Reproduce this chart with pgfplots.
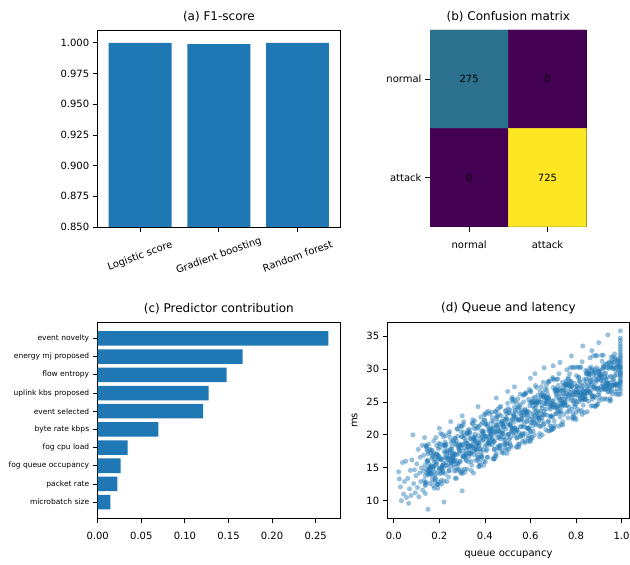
\documentclass[border=0pt]{standalone}
\usepackage{fontspec}
\setmainfont{DejaVu Sans}
\usepackage{pgfplots}
\usepackage{pgfplotstable}
\pgfplotsset{compat=1.18}
\definecolor{mplblue}{HTML}{1F77B4}
\pgfplotsset{
  mpl/.style={
    scale only axis,
    axis line style={black, line width=0.8pt},
    every tick/.style={black, line width=0.8pt},
    tick align=outside,
    major tick length=5pt,
    xtick pos=bottom, ytick pos=left,
    tick label style={font=\fontsize{10}{12}\selectfont},
    /pgf/number format/assume math mode=true,
    title style={font=\fontsize{12}{14}\selectfont, yshift=-1.5pt},
    label style={font=\fontsize{10}{12}\selectfont},
  },
  mplx/.style={xticklabel style={yshift=-5.5pt}},
  sc/.style={only marks, mark=*, color=mplblue, mark size=2.4pt,
    mark options={draw=mplblue, fill=mplblue, draw opacity=0.15, fill opacity=0.45}},
}
\pgfplotstableread{
x y
0.021 14.4
0.024 13.3
0.029 12.1
0.033 10.0
0.038 15.8
0.043 11.0
0.047 12.9
0.052 16.0
0.056 10.5
0.061 13.4
0.065 9.6
0.069 11.8
0.072 14.6
0.076 10.8
0.079 16.2
0.084 20.0
0.087 12.6
0.091 14.7
0.094 11.2
0.097 13.8
0.101 15.6
0.104 12.0
0.107 17.8
0.110 10.6
0.113 14.2
0.116 16.6
0.118 12.9
0.121 15.0
0.124 18.4
0.127 11.6
0.129 14.5
0.131 16.9
0.133 13.1
0.135 19.6
0.137 15.4
0.138 12.3
0.150 8.7
0.140 12.7
0.140 12.8
0.140 18.4
0.145 16.0
0.145 14.2
0.145 17.8
0.150 17.1
0.150 14.0
0.150 14.6
0.155 15.1
0.155 13.9
0.155 14.8
0.160 14.8
0.160 14.2
0.160 17.3
0.165 15.3
0.165 14.3
0.165 17.7
0.170 13.7
0.170 16.7
0.170 16.9
0.175 15.2
0.175 19.1
0.175 17.2
0.180 13.0
0.180 16.4
0.180 13.8
0.185 19.6
0.185 15.9
0.185 15.4
0.190 16.6
0.190 14.2
0.190 12.5
0.195 17.9
0.195 16.8
0.195 12.5
0.200 14.9
0.200 16.7
0.200 12.8
0.205 20.2
0.205 18.6
0.205 15.0
0.210 12.5
0.210 16.3
0.210 14.8
0.215 15.4
0.215 14.5
0.215 14.3
0.220 13.0
0.220 18.4
0.220 18.5
0.225 14.1
0.225 18.3
0.225 18.9
0.230 16.5
0.230 15.4
0.230 18.6
0.235 15.3
0.235 17.7
0.235 16.6
0.240 13.6
0.240 16.2
0.240 16.4
0.245 17.3
0.245 20.5
0.245 16.7
0.250 17.6
0.250 15.2
0.250 15.7
0.255 18.3
0.255 17.2
0.255 17.8
0.260 16.4
0.260 19.1
0.260 16.0
0.265 17.2
0.265 14.5
0.265 15.1
0.270 17.0
0.270 13.4
0.270 19.5
0.275 14.6
0.275 16.1
0.275 13.4
0.280 20.9
0.280 19.8
0.280 15.6
0.285 14.8
0.285 17.9
0.285 18.3
0.290 18.5
0.290 17.5
0.290 15.9
0.295 21.3
0.295 20.5
0.295 18.0
0.300 21.3
0.300 14.1
0.300 19.8
0.305 21.6
0.305 17.5
0.305 16.7
0.310 19.9
0.310 14.8
0.310 19.5
0.315 19.1
0.315 18.8
0.315 17.0
0.320 17.8
0.320 18.7
0.320 17.0
0.325 18.2
0.325 18.7
0.325 18.3
0.330 16.7
0.330 17.7
0.330 20.8
0.335 20.3
0.335 17.2
0.335 19.4
0.340 17.3
0.340 16.0
0.340 14.6
0.345 21.7
0.345 21.8
0.345 18.3
0.350 19.5
0.350 21.0
0.350 19.7
0.355 22.1
0.355 17.8
0.355 19.2
0.360 17.9
0.360 21.3
0.360 16.1
0.365 18.7
0.365 18.5
0.365 17.6
0.370 19.9
0.370 21.1
0.370 16.6
0.375 18.7
0.375 18.4
0.375 15.8
0.380 17.9
0.380 15.4
0.380 19.4
0.385 16.9
0.385 16.7
0.385 20.6
0.390 20.6
0.390 19.1
0.390 21.9
0.395 15.4
0.395 20.5
0.395 16.0
0.400 18.3
0.400 19.9
0.400 22.2
0.405 17.6
0.405 19.7
0.405 21.6
0.410 19.8
0.410 16.6
0.410 17.8
0.415 23.6
0.415 18.7
0.415 18.8
0.420 18.5
0.420 19.2
0.420 23.2
0.425 21.1
0.425 20.1
0.425 20.8
0.430 19.3
0.430 21.9
0.430 23.4
0.435 20.9
0.435 16.4
0.435 20.6
0.440 16.3
0.440 17.8
0.440 18.9
0.445 20.5
0.445 16.8
0.445 20.4
0.450 22.5
0.450 16.8
0.450 21.5
0.455 20.6
0.455 18.1
0.455 22.8
0.460 18.3
0.460 22.0
0.460 20.6
0.465 24.2
0.465 18.4
0.465 18.0
0.470 21.2
0.470 24.3
0.470 19.7
0.475 17.3
0.475 22.1
0.475 21.9
0.480 20.2
0.480 21.5
0.480 21.7
0.485 21.8
0.485 19.2
0.485 21.2
0.490 18.0
0.490 19.3
0.490 23.6
0.495 18.6
0.495 22.6
0.495 23.2
0.500 24.8
0.500 20.0
0.500 18.7
0.505 23.3
0.505 20.1
0.505 17.8
0.510 18.8
0.510 23.8
0.510 21.5
0.515 18.2
0.515 21.2
0.515 22.2
0.520 21.0
0.520 25.7
0.520 22.3
0.525 23.2
0.525 25.4
0.525 22.9
0.530 21.0
0.530 19.9
0.530 24.2
0.535 23.5
0.535 20.7
0.535 20.4
0.540 24.8
0.540 19.5
0.540 20.8
0.545 25.5
0.545 24.0
0.545 24.2
0.550 18.2
0.550 20.3
0.550 22.3
0.555 19.7
0.555 26.2
0.555 21.2
0.560 23.5
0.560 21.3
0.560 23.0
0.565 22.1
0.565 19.0
0.565 22.9
0.570 23.4
0.570 21.2
0.570 25.0
0.575 18.8
0.575 20.2
0.575 26.2
0.580 26.3
0.580 23.5
0.580 26.4
0.585 21.0
0.585 22.7
0.585 22.1
0.590 21.0
0.590 19.5
0.590 19.0
0.595 20.9
0.595 26.9
0.595 23.4
0.600 26.6
0.600 22.4
0.600 19.2
0.605 24.9
0.605 19.6
0.605 22.7
0.610 21.4
0.610 24.4
0.610 24.9
0.615 22.3
0.615 22.1
0.615 25.0
0.620 25.0
0.620 21.8
0.620 25.7
0.625 24.6
0.625 23.5
0.625 21.5
0.630 23.4
0.630 25.2
0.630 24.9
0.635 22.9
0.635 23.6
0.635 22.5
0.640 19.7
0.640 20.2
0.640 25.0
0.645 21.3
0.645 25.0
0.645 23.6
0.650 22.6
0.650 23.1
0.650 24.4
0.655 26.1
0.655 25.8
0.655 26.4
0.660 25.9
0.660 21.7
0.660 23.6
0.665 25.7
0.665 25.9
0.665 26.9
0.670 24.7
0.670 27.5
0.670 25.6
0.675 25.1
0.675 25.5
0.675 26.2
0.680 25.7
0.680 22.1
0.680 25.6
0.685 24.2
0.685 21.4
0.685 20.6
0.690 22.9
0.690 24.8
0.690 24.7
0.695 24.3
0.695 20.8
0.695 24.6
0.700 25.1
0.700 28.5
0.700 27.2
0.705 24.2
0.705 22.1
0.705 24.7
0.710 26.9
0.710 23.2
0.710 27.0
0.715 26.3
0.715 28.4
0.715 25.7
0.720 28.5
0.720 24.3
0.720 24.6
0.725 21.3
0.725 29.3
0.725 25.7
0.730 22.7
0.730 23.5
0.730 24.3
0.735 21.6
0.735 23.6
0.735 25.9
0.740 28.0
0.740 24.8
0.740 24.6
0.745 24.9
0.745 27.5
0.745 26.3
0.750 27.6
0.750 24.9
0.750 24.6
0.755 27.5
0.755 25.7
0.755 26.9
0.760 24.5
0.760 29.9
0.760 26.3
0.765 25.9
0.765 28.5
0.765 22.6
0.770 24.2
0.770 23.6
0.770 26.2
0.775 30.2
0.775 28.1
0.775 26.0
0.780 25.6
0.780 25.2
0.780 28.1
0.785 22.6
0.785 30.3
0.785 26.2
0.790 22.8
0.790 30.2
0.790 25.1
0.795 27.8
0.795 25.3
0.795 24.3
0.800 23.4
0.800 27.3
0.800 24.6
0.805 27.4
0.805 26.5
0.805 25.1
0.810 26.5
0.810 30.3
0.810 27.1
0.815 25.9
0.815 28.2
0.815 23.6
0.820 25.6
0.820 25.5
0.820 26.4
0.825 27.0
0.825 25.3
0.825 23.7
0.830 25.6
0.830 26.0
0.830 26.7
0.835 28.4
0.835 27.0
0.835 26.3
0.840 25.9
0.840 25.4
0.840 26.0
0.845 25.4
0.845 29.3
0.845 28.5
0.850 23.5
0.850 27.4
0.850 29.7
0.855 25.1
0.855 29.4
0.855 27.0
0.860 29.2
0.860 26.5
0.860 30.1
0.865 28.3
0.865 29.2
0.865 26.6
0.870 25.8
0.870 29.9
0.870 29.7
0.875 27.3
0.875 24.4
0.875 25.8
0.880 25.9
0.880 29.6
0.880 29.3
0.885 25.7
0.885 29.4
0.885 24.3
0.890 28.9
0.890 30.2
0.890 28.3
0.895 28.4
0.895 24.6
0.895 27.1
0.900 29.9
0.900 28.6
0.900 29.6
0.905 29.7
0.905 25.7
0.905 29.1
0.910 28.9
0.910 27.3
0.910 29.2
0.915 31.2
0.915 26.9
0.915 28.7
0.920 30.5
0.920 30.2
0.920 32.1
0.925 30.3
0.925 26.9
0.925 29.3
0.930 30.7
0.930 26.9
0.930 29.4
0.935 30.8
0.935 25.4
0.935 27.8
0.940 27.0
0.940 26.5
0.940 27.7
0.945 30.9
0.945 30.1
0.945 26.6
0.950 25.1
0.950 27.3
0.950 27.9
0.955 31.8
0.955 30.3
0.955 26.6
0.960 27.5
0.960 30.1
0.960 26.2
0.965 27.6
0.965 30.3
0.965 27.5
0.970 27.7
0.970 32.3
0.970 29.0
0.975 26.5
0.975 29.7
0.975 30.2
0.980 27.8
0.980 27.0
0.980 30.7
0.985 29.8
0.985 30.4
0.985 30.5
0.200 21.0
0.250 22.0
0.220 9.8
0.300 11.5
0.350 14.2
0.300 22.9
0.370 24.3
0.450 25.6
0.500 26.6
0.530 27.3
0.600 28.6
0.620 29.3
0.660 30.2
0.700 30.5
0.730 31.0
0.780 32.0
0.830 33.5
0.870 32.8
0.900 34.0
0.940 35.2
0.600 19.0
0.700 21.0
0.800 22.3
0.950 25.5
0.450 17.2
0.995 26.2
0.995 26.7
0.995 27.1
0.995 27.5
0.995 27.9
0.995 28.0
0.995 28.2
0.995 28.5
0.995 28.8
0.995 29.1
0.995 29.2
0.995 29.4
0.995 29.6
0.995 29.9
0.995 30.1
0.995 30.3
0.995 30.4
0.995 30.7
0.995 31.0
0.995 31.3
0.995 31.6
0.995 31.9
0.995 32.2
0.995 32.6
0.995 33.0
0.995 33.4
0.995 33.8
0.995 34.3
0.995 34.7
0.995 35.8
}\scatterA
\pgfplotstableread{
x y
0.242 14.5
0.242 14.6
0.242 20.2
0.247 17.8
0.247 16.0
0.247 19.6
0.252 18.9
0.252 15.8
0.252 16.4
0.257 16.9
0.257 15.7
0.257 16.6
0.262 16.6
0.262 16.0
0.262 19.1
0.267 17.1
0.267 16.1
0.267 19.5
0.272 15.5
0.272 18.5
0.272 18.7
0.277 17.0
0.277 20.9
0.277 19.0
0.282 14.8
0.282 18.2
0.282 15.6
0.287 21.4
0.287 17.7
0.287 17.2
0.292 18.4
0.292 16.0
0.292 14.3
0.297 19.7
0.297 18.6
0.297 14.3
0.302 16.7
0.302 18.5
0.302 14.6
0.307 22.0
0.307 20.4
0.307 16.8
0.312 14.3
0.312 18.1
0.312 16.6
0.317 17.2
0.317 16.3
0.317 16.1
0.322 14.8
0.322 20.2
0.322 20.3
0.327 15.9
0.327 20.1
0.327 20.7
0.332 18.3
0.332 17.2
0.332 20.4
0.337 17.1
0.337 19.5
0.337 18.4
0.342 15.4
0.342 18.0
0.342 18.2
0.347 19.1
0.347 22.3
0.347 18.5
0.352 19.4
0.352 17.0
0.352 17.5
0.357 20.1
0.357 19.0
0.357 19.6
0.362 18.2
0.362 20.9
0.362 17.8
0.367 19.0
0.367 16.3
0.367 16.9
0.372 18.8
0.372 15.2
0.372 21.3
0.377 16.4
0.377 17.9
0.377 15.2
0.382 22.7
0.382 21.6
0.382 17.4
0.387 16.6
0.387 19.7
0.387 20.1
0.392 20.3
0.392 19.3
0.392 17.7
0.397 23.1
0.397 22.3
0.397 19.8
0.402 23.1
0.402 15.9
0.402 21.6
0.407 23.4
0.407 19.3
0.407 18.5
0.412 21.7
0.412 16.6
0.412 21.3
0.417 20.9
0.417 20.6
0.417 18.8
0.422 19.6
0.422 20.5
0.422 18.8
0.427 20.0
0.427 20.5
0.427 20.1
0.432 18.5
0.432 19.5
0.432 22.6
0.437 22.1
0.437 19.0
0.437 21.2
0.442 19.1
0.442 17.8
0.442 16.4
0.447 23.5
0.447 23.6
0.447 20.1
0.452 21.3
0.452 22.8
0.452 21.5
0.457 23.9
0.457 19.6
0.457 21.0
0.462 19.7
0.462 23.1
0.462 17.9
0.467 20.5
0.467 20.3
0.467 19.4
0.472 21.7
0.472 22.9
0.472 18.4
0.477 20.5
0.477 20.2
0.477 17.6
0.482 19.7
0.482 17.2
0.482 21.2
0.487 18.7
0.487 18.5
0.487 22.4
0.492 22.4
0.492 20.9
0.492 23.7
0.497 17.2
0.497 22.3
0.497 17.8
0.502 20.1
0.502 21.7
0.502 24.0
0.507 19.4
0.507 21.5
0.507 23.4
0.512 21.6
0.512 18.4
0.512 19.6
0.517 25.4
0.517 20.5
0.517 20.6
0.522 20.3
0.522 21.0
0.522 25.0
0.527 22.9
0.527 21.9
0.527 22.6
0.532 21.1
0.532 23.7
0.532 25.2
0.537 22.7
0.537 18.2
0.537 22.4
0.542 18.1
0.542 19.6
0.542 20.7
0.547 22.3
0.547 18.6
0.547 22.2
0.552 24.3
0.552 18.6
0.552 23.3
0.557 22.4
0.557 19.9
0.557 24.6
0.562 20.1
0.562 23.8
0.562 22.4
0.567 26.0
0.567 20.2
0.567 19.8
0.572 23.0
0.572 26.1
0.572 21.5
0.577 19.1
0.577 23.9
0.577 23.7
0.582 22.0
0.582 23.3
0.582 23.5
0.587 23.6
0.587 21.0
0.587 23.0
0.592 19.8
0.592 21.1
0.592 25.4
0.597 20.4
0.597 24.4
0.597 25.0
0.602 26.6
0.602 21.8
0.602 20.5
0.607 25.1
0.607 21.9
0.607 19.6
0.612 20.6
0.612 25.6
0.612 23.3
0.617 20.0
0.617 23.0
0.617 24.0
0.622 22.8
0.622 27.5
0.622 24.1
0.627 25.0
0.627 27.2
0.627 24.7
0.632 22.8
0.632 21.7
0.632 26.0
0.637 25.3
0.637 22.5
0.637 22.2
0.642 26.6
0.642 21.3
0.642 22.6
0.647 27.3
0.647 25.8
0.647 26.0
0.652 20.0
0.652 22.1
0.652 24.1
0.657 21.5
0.657 28.0
0.657 23.0
0.662 25.3
0.662 23.1
0.662 24.8
0.667 23.9
0.667 20.8
0.667 24.7
0.672 25.2
0.672 23.0
0.672 26.8
0.677 20.6
0.677 22.0
0.677 28.0
0.682 28.1
0.682 25.3
0.682 28.2
0.687 22.8
0.687 24.5
0.687 23.9
0.692 22.8
0.692 21.3
0.692 20.8
0.697 22.7
0.697 28.7
0.697 25.2
0.702 28.4
0.702 24.2
0.702 21.0
0.707 26.7
0.707 21.4
0.707 24.5
0.712 23.2
0.712 26.2
0.712 26.7
0.717 24.1
0.717 23.9
0.717 26.8
0.722 26.8
0.722 23.6
0.722 27.5
0.727 26.4
0.727 25.3
0.727 23.3
0.732 25.2
0.732 27.0
0.732 26.7
0.737 24.7
0.737 25.4
0.737 24.3
0.742 21.5
0.742 22.0
0.742 26.8
0.747 23.1
0.747 26.8
0.747 25.4
0.752 24.4
0.752 24.9
0.752 26.2
0.757 27.9
0.757 27.6
0.757 28.2
0.762 27.7
0.762 23.5
0.762 25.4
0.767 27.5
0.767 27.7
0.767 28.7
0.772 26.5
0.772 29.3
0.772 27.4
0.777 26.9
0.777 27.3
0.777 28.0
0.782 27.5
0.782 23.9
0.782 27.4
0.787 26.0
0.787 23.2
0.787 22.4
0.792 24.7
0.792 26.6
0.792 26.5
0.797 26.1
0.797 22.6
0.797 26.4
0.802 26.9
0.802 30.3
0.802 29.0
0.807 26.0
0.807 23.9
0.807 26.5
0.812 28.7
0.812 25.0
0.812 28.8
0.817 28.1
0.817 30.2
0.817 27.5
0.822 30.3
0.822 26.1
0.822 26.4
0.827 23.1
0.827 31.1
0.827 27.5
0.832 24.5
0.832 25.3
0.832 26.1
0.837 23.4
0.837 25.4
0.837 27.7
0.842 29.8
0.842 26.6
0.842 26.4
0.847 26.7
0.847 29.3
0.847 28.1
0.852 29.4
0.852 26.7
0.852 26.4
0.857 29.3
0.857 27.5
0.857 28.7
0.862 26.3
0.862 31.7
0.862 28.1
0.867 27.7
0.867 30.3
0.867 24.4
0.872 26.0
0.872 25.4
0.872 28.0
0.877 32.0
0.877 28.6
0.877 27.2
0.882 27.4
0.882 27.0
0.882 29.9
0.887 24.4
0.887 32.1
0.887 28.0
0.892 24.6
0.892 32.0
0.892 26.9
0.897 29.6
0.897 27.1
0.897 26.1
0.902 25.2
0.902 29.1
0.902 26.4
0.907 29.2
0.907 28.3
0.907 26.9
0.912 28.3
0.912 32.1
0.912 28.9
0.917 27.7
0.917 30.0
0.917 25.4
0.922 27.4
0.922 27.3
0.922 28.2
0.927 28.8
0.927 27.1
0.927 25.5
0.932 27.4
0.932 27.8
0.932 28.5
0.937 30.2
0.937 28.8
0.937 28.1
0.942 27.7
0.942 27.2
0.942 27.8
0.947 27.2
0.947 31.1
0.947 30.3
0.952 25.3
0.952 28.9
0.952 30.6
0.957 26.9
0.957 31.2
0.957 28.8
0.962 31.0
0.962 28.3
0.962 31.9
0.967 30.1
0.967 31.0
0.967 28.4
0.972 27.6
0.972 31.7
0.972 31.5
0.977 29.1
0.977 26.2
0.977 27.6
0.982 27.7
0.982 31.4
0.982 31.1
0.987 27.5
0.987 31.2
0.987 26.1
0.138 13.8
0.138 12.5
0.138 11.1
0.143 18.2
0.143 18.3
0.143 14.8
0.148 16.0
0.148 17.5
0.148 16.2
0.153 18.6
0.153 14.3
0.153 15.7
0.158 14.4
0.158 17.8
0.158 12.6
0.163 15.2
0.163 15.0
0.163 14.1
0.168 16.4
0.168 17.6
0.168 13.1
0.173 15.2
0.173 14.9
0.173 12.3
0.178 14.4
0.178 11.9
0.178 15.9
0.183 13.4
0.183 13.2
0.183 17.1
0.188 17.1
0.188 15.6
0.188 18.4
0.193 11.9
0.193 17.0
0.193 12.5
0.198 14.8
0.198 16.4
0.198 18.7
0.203 14.1
0.203 16.2
0.203 18.1
0.208 16.3
0.208 13.1
0.208 14.3
0.213 20.1
0.213 15.2
0.213 15.3
0.218 15.0
0.218 15.7
0.218 19.7
0.223 17.6
0.223 16.6
0.223 17.3
0.228 15.8
0.228 18.4
0.228 19.9
0.233 17.4
0.233 12.9
0.233 17.1
}\scatterB
\begin{document}
\begin{tikzpicture}[x=1pt,y=1pt]
\path[use as bounding box] (0,0) rectangle (630,565);

% (a) F1-score
\begin{axis}[mpl, at={(97.7pt,338pt)}, anchor=south west,
  width=242.3pt, height=197pt,
  xmin=-0.54, xmax=2.54, ymin=0.85, ymax=1.0105,
  xtick={0,1,2}, xticklabels={Logistic score,Gradient boosting,Random forest},
  xticklabel style={yshift=-24pt, rotate=20, anchor=center},
  ytick={0.85,0.875,0.9,0.925,0.95,0.975,1.0},
  yticklabel style={/pgf/number format/.cd, fixed, fixed zerofill, precision=3},
  title={(a) F1-score}]
\addplot[ybar, bar width=0.8, bar shift=0pt, fill=mplblue, draw=none]
  coordinates {(0,1.0) (1,0.9989) (2,1.0)};
\end{axis}

% (b) Confusion matrix
\begin{axis}[mpl, mplx, at={(430pt,338.3pt)}, anchor=south west,
  width=156.7pt, height=196.7pt,
  xmin=-0.5, xmax=1.5, ymin=-0.5, ymax=1.5, y dir=reverse,
  xtick={0,1}, xticklabels={normal,attack},
  ytick={0,1}, yticklabels={normal,attack},
  colormap={cmv}{rgb255(0cm)=(68,1,84); rgb255(2.75cm)=(44,114,142); rgb255(7.25cm)=(253,231,37)},
  point meta min=0, point meta max=725,
  title={(b) Confusion matrix}]
\addplot[matrix plot*, mesh/cols=2, mesh/rows=2, point meta=explicit] table[meta=c] {
x y c
0 0 275
1 0 0
0 1 0
1 1 725
};
\addplot[only marks, mark=none, nodes near coords, point meta=explicit symbolic,
  nodes near coords align=center, every node near coord/.append style={font=\fontsize{10}{12}\selectfont, black, anchor=center}]
  table[meta=t] {
x y t
0 0 275
1 0 0
0 1 0
1 1 725
};
\end{axis}

% (c) Predictor contribution
\begin{axis}[mpl, mplx, at={(97.7pt,46.7pt)}, anchor=south west,
  width=242.3pt, height=196pt,
  xmin=0, xmax=0.2779, ymin=-0.89, ymax=9.89, y dir=reverse,
  xtick={0,0.05,0.1,0.15,0.2,0.25},
  xticklabel style={/pgf/number format/.cd, fixed, fixed zerofill, precision=2},
  ytick={0,...,9},
  yticklabels={event novelty,energy mj proposed,flow entropy,uplink kbs proposed,event selected,byte rate kbps,fog cpu load,fog queue occupancy,packet rate,microbatch size},
  yticklabel style={font=\fontsize{7.5}{9}\selectfont},
  title={(c) Predictor contribution}]
\addplot[xbar, bar width=0.8, bar shift=0pt, fill=mplblue, draw=none]
  coordinates {(0.2645,0) (0.1663,1) (0.1480,2) (0.1273,3) (0.1210,4) (0.0695,5) (0.0344,6) (0.0264,7) (0.0225,8) (0.0145,9)};
\end{axis}

% (d) Queue and latency
\begin{axis}[mpl, mplx, at={(387.7pt,46.7pt)}, anchor=south west,
  width=241.3pt, height=196pt,
  xmin=-0.027, xmax=1.033, ymin=7.33, ymax=37.1,
  xtick={0,0.2,0.4,0.6,0.8,1.0},
  xticklabel style={/pgf/number format/.cd, fixed, fixed zerofill, precision=1},
  ytick={10,15,20,25,30,35},
  xlabel={queue occupancy}, ylabel={ms},
  xlabel style={yshift=-4pt}, ylabel style={yshift=2pt},
  title={(d) Queue and latency}]
\addplot[sc] table {\scatterA};
\addplot[sc] table {\scatterB};
\end{axis}
\end{tikzpicture}
\end{document}
